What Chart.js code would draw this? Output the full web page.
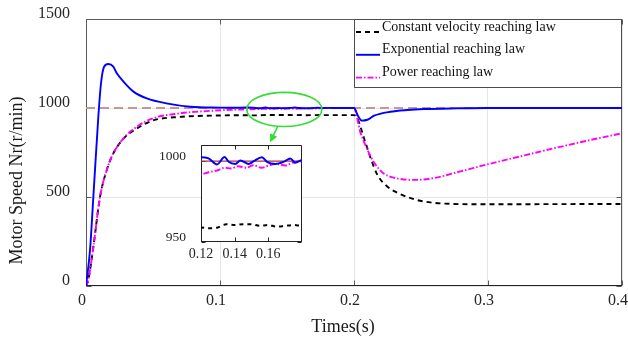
<!DOCTYPE html>
<html>
<head>
<meta charset="utf-8">
<script src="https://cdn.jsdelivr.net/npm/chart.js@4.4.1/dist/chart.umd.min.js"></script>
<style>
  html, body { margin: 0; padding: 0; background: #fff; }
  #wrap { position: relative; width: 628px; height: 339px; }
  #mainChart { position: absolute; left: 0; top: 0; }
  #insetChart { position: absolute; left: 150px; top: 135px; }
</style>
</head>
<body>
<div id="wrap">
  <canvas id="mainChart" width="628" height="339"></canvas>
  <canvas id="insetChart" width="160" height="130"></canvas>
</div>
<script>
const SERIF = '"Liberation Serif", "Times New Roman", serif';

const xTitle = 'Times(s)';
const yTitle = 'Motor Speed Nr(r/min)';
const legendLabels = ['Constant velocity reaching law', 'Exponential reaching law', 'Power reaching law'];

const timeTicks = [0, 0.1, 0.2, 0.3, 0.4];
const speedTicks = [0, 500, 1000, 1500];
const insetTimeTicks = [0.12, 0.14, 0.16];
const insetSpeedTicks = [950, 1000];

const refTime = [0, 0.4];
const refSpeed = [1000, 1000];

const constTime = [0, 0.0017, 0.0055, 0.0105, 0.0155, 0.0204, 0.028, 0.038, 0.05, 0.07,
  0.1, 0.11, 0.12, 0.125, 0.13, 0.135, 0.14, 0.145, 0.15, 0.155,
  0.16, 0.165, 0.17, 0.175, 0.18, 0.19, 0.2, 0.2025, 0.2075, 0.2125,
  0.2175, 0.225, 0.235, 0.247, 0.265, 0.3, 0.35, 0.4];
const constSpeed = [0, 34, 221, 502, 652, 745, 828, 885, 930, 950,
  958, 959, 959, 958.5, 959, 961, 960.5, 961, 961, 960,
  960.5, 959.5, 960, 960.5, 960, 960, 960, 942, 830, 717,
  624, 558, 515, 483, 464, 459, 460, 461];

const expTime = [0, 0.003, 0.0055, 0.0092, 0.0112, 0.0135, 0.0167, 0.0204, 0.023, 0.028,
  0.0354, 0.0454, 0.06, 0.078, 0.1, 0.11,
  0.12, 0.1245, 0.1295, 0.134, 0.1364, 0.1404, 0.1434, 0.1483, 0.1513, 0.1562,
  0.1592, 0.1642, 0.1691, 0.1731, 0.176, 0.18,
  0.19, 0.2, 0.203, 0.206, 0.21, 0.215, 0.227, 0.24, 0.252, 0.277, 0.3, 0.4];
const expSpeed = [0, 202, 502, 951, 1139, 1232, 1247, 1232, 1195, 1148,
  1092, 1054, 1026, 1007, 1002, 1001,
  1002.5, 1001.7, 998, 1002.5, 999.6, 998.3, 1000.4, 998.3, 1000, 1002.5,
  999.6, 998.3, 999.6, 1001.7, 999, 1000.6,
  1000, 1000, 955, 929, 934, 957, 979, 989, 994, 998, 1000, 1000];

const powerTime = [0, 0.0017, 0.0055, 0.0105, 0.0155, 0.0204, 0.028, 0.038, 0.05, 0.07,
  0.095, 0.108, 0.12, 0.1245, 0.1295, 0.134, 0.138, 0.142, 0.147, 0.151,
  0.156, 0.16, 0.165, 0.17, 0.174, 0.177, 0.18, 0.19, 0.2, 0.2046,
  0.2096, 0.2146, 0.222, 0.2297, 0.245, 0.26, 0.28, 0.3, 0.325, 0.35,
  0.375, 0.4];
const powerSpeed = [0, 34, 221, 502, 652, 745, 830, 895, 942, 970,
  985, 990, 991.7, 993.2, 994.2, 995.9, 995.5, 996.9, 995.9, 997.5,
  995.9, 997.3, 998.3, 997.3, 999, 999.6, 1000, 1000, 1000, 867,
  773, 698, 633, 609, 596, 607, 645, 684, 730, 775,
  818, 858];

// green ellipse marking the zoomed window, and where its arrow points
const markTime = 0.148;
const markSpeed = 992;
const markHalfTime = 0.028;
const markHalfSpeed = 96;
const arrowTime = 0.1374;
const arrowSpeed = 808;

const toPoints = (ts, vs) => ts.map((t, i) => ({ x: t, y: vs[i] }));

const boxTicks = {
  id: 'boxTicks',
  beforeDatasetsDraw(chart, args, opts) {
    const { ctx, chartArea: a, scales: { x, y } } = chart;
    const L = Math.round(a.left) + 0.5, R = Math.round(a.right) - 0.5;
    const T = Math.round(a.top) + 0.5, B = Math.round(a.bottom) - 0.5;
    const len = opts.len || 5;
    ctx.save();
    ctx.lineWidth = 1;
    ctx.strokeStyle = opts.sideColor || '#555';
    ctx.beginPath();
    ctx.moveTo(L, B); ctx.lineTo(L, T); ctx.lineTo(R, T); ctx.lineTo(R, B);
    (opts.xTicks || []).forEach(v => {
      const px = Math.round(x.getPixelForValue(v)) + 0.5;
      ctx.moveTo(px, B); ctx.lineTo(px, B - len);
      ctx.moveTo(px, T); ctx.lineTo(px, T + len);
    });
    (opts.yTicks || []).forEach(v => {
      const py = Math.round(y.getPixelForValue(v)) + 0.5;
      ctx.moveTo(L, py); ctx.lineTo(L + len, py);
      ctx.moveTo(R, py); ctx.lineTo(R - len, py);
    });
    ctx.stroke();
    ctx.strokeStyle = opts.bottomColor || '#222';
    ctx.beginPath();
    ctx.moveTo(L - 0.5, B); ctx.lineTo(R + 0.5, B);
    ctx.stroke();
    ctx.restore();
  }
};

const boxLegend = {
  id: 'boxLegend',
  afterDatasetsDraw(chart) {
    const { ctx, chartArea: a } = chart;
    const items = chart.data.datasets.filter(d => d.inLegend);
    const w = 268, h = 69;
    const left = Math.round(a.right - w), top = Math.round(a.top);
    ctx.save();
    ctx.fillStyle = '#fff';
    ctx.fillRect(left, top, w, h);
    ctx.strokeStyle = '#4d4d4d';
    ctx.lineWidth = 1;
    ctx.strokeRect(left + 0.5, top + 0.5, w - 1, h - 1);
    ctx.font = `14px ${SERIF}`;
    ctx.textBaseline = 'middle';
    ctx.textAlign = 'left';
    items.forEach((d, i) => {
      const cy = top + 8 + i * 22.8;
      ctx.strokeStyle = d.borderColor;
      ctx.lineWidth = d.borderWidth;
      ctx.setLineDash(d.borderDash || []);
      ctx.beginPath();
      ctx.moveTo(left + 2, cy + 5);
      ctx.lineTo(left + 26, cy + 5);
      ctx.stroke();
      ctx.setLineDash([]);
      ctx.fillStyle = '#111';
      ctx.fillText(d.label, left + 28, cy);
    });
    ctx.restore();
  }
};

const zoomMark = {
  id: 'zoomMark',
  afterDatasetsDraw(chart) {
    const { ctx, scales: { x, y } } = chart;
    const cx = x.getPixelForValue(markTime), cy = y.getPixelForValue(markSpeed);
    const rx = x.getPixelForValue(markTime + markHalfTime) - cx;
    const ry = y.getPixelForValue(markSpeed - markHalfSpeed) - cy;
    const ang = 100 * Math.PI / 180;
    const sx = cx + rx * Math.cos(ang), sy = cy + ry * Math.sin(ang);
    const ex = x.getPixelForValue(arrowTime), ey = y.getPixelForValue(arrowSpeed);
    const dir = Math.atan2(ey - sy, ex - sx);
    ctx.save();
    ctx.strokeStyle = '#33dd33';
    ctx.fillStyle = '#33dd33';
    ctx.lineWidth = 1.6;
    ctx.beginPath();
    ctx.ellipse(cx, cy, rx, ry, 0, 0, Math.PI * 2);
    ctx.stroke();
    ctx.beginPath();
    ctx.moveTo(sx, sy);
    ctx.lineTo(ex - 5 * Math.cos(dir), ey - 5 * Math.sin(dir));
    ctx.stroke();
    ctx.beginPath();
    ctx.moveTo(ex, ey);
    ctx.lineTo(ex - 8 * Math.cos(dir) + 4 * Math.sin(dir), ey - 8 * Math.sin(dir) - 4 * Math.cos(dir));
    ctx.lineTo(ex - 8 * Math.cos(dir) - 4 * Math.sin(dir), ey - 8 * Math.sin(dir) + 4 * Math.cos(dir));
    ctx.closePath();
    ctx.fill();
    ctx.restore();
  }
};

const axisTitles = {
  id: 'axisTitles',
  afterDraw(chart) {
    const { ctx, chartArea: a } = chart;
    ctx.save();
    ctx.fillStyle = '#1a1a1a';
    ctx.font = `18px ${SERIF}`;
    ctx.textAlign = 'center';
    ctx.textBaseline = 'middle';
    ctx.fillText(xTitle, (a.left + a.right) / 2 - 11, a.bottom + 41);
    ctx.translate(17, (a.top + a.bottom) / 2 + 28);
    ctx.rotate(-Math.PI / 2);
    ctx.fillText(yTitle, 0, 0);
    ctx.restore();
  }
};

const whiteArea = {
  id: 'whiteArea',
  beforeDraw(chart) {
    const { ctx, chartArea: a } = chart;
    ctx.save();
    ctx.fillStyle = '#fff';
    ctx.fillRect(a.left, a.top, a.width, a.height);
    ctx.restore();
  }
};

function makeDatasets(inset) {
  return [
    {
      label: legendLabels[0], inLegend: !inset,
      data: toPoints(constTime, constSpeed),
      borderColor: '#000000', borderWidth: inset ? 2 : 1.9,
      borderDash: inset ? [4, 4] : [5, 4], order: 3
    },
    {
      label: legendLabels[1], inLegend: !inset,
      data: toPoints(expTime, expSpeed),
      borderColor: '#0000ff', borderWidth: inset ? 2 : 1.9, order: 1
    },
    {
      label: legendLabels[2], inLegend: !inset,
      data: toPoints(powerTime, powerSpeed),
      borderColor: '#ff00ff', borderWidth: inset ? 2 : 1.9,
      borderDash: [6, 2, 1.5, 2], order: 2
    },
    {
      label: 'reference', inLegend: false,
      data: toPoints(refTime, refSpeed),
      borderColor: inset ? '#b03030' : '#c8959a', borderWidth: inset ? 1.2 : 2,
      borderDash: inset ? [] : [9, 5], order: 4
    }
  ].map(d => Object.assign(d, { pointRadius: 0, fill: false, cubicInterpolationMode: 'monotone' }));
}

const tickFont = size => ({ family: SERIF, size });

new Chart(document.getElementById('mainChart'), {
  type: 'line',
  data: { datasets: makeDatasets(false) },
  options: {
    responsive: false,
    animation: false,
    events: [],
    layout: { padding: { left: 0, top: 19, right: 6, bottom: 0 } },
    plugins: {
      legend: { display: false },
      tooltip: { enabled: false },
      boxTicks: { len: 5, xTicks: timeTicks, yTicks: speedTicks, sideColor: '#5a5a5a', bottomColor: '#222' }
    },
    scales: {
      x: {
        type: 'linear', min: 0, max: 0.4,
        afterBuildTicks: s => { s.ticks = timeTicks.map(v => ({ value: v })); },
        afterFit: s => { s.height = 53; s.paddingLeft = 0; s.paddingRight = 0; },
        grid: { color: '#e6e6e6', drawTicks: false },
        border: { display: false },
        ticks: { font: tickFont(16), color: '#262626', padding: 5, labelOffset: -4, maxRotation: 0, callback: v => String(v) }
      },
      y: {
        type: 'linear', min: 0, max: 1500,
        afterBuildTicks: s => { s.ticks = speedTicks.map(v => ({ value: v })); },
        afterFit: s => { s.width = 86; s.paddingTop = 0; s.paddingBottom = 0; },
        grid: { color: '#e6e6e6', drawTicks: false },
        border: { display: false },
        ticks: { font: tickFont(16), color: '#262626', padding: 16, labelOffset: -5, callback: v => String(v) }
      }
    }
  },
  plugins: [boxTicks, boxLegend, zoomMark, axisTitles]
});

new Chart(document.getElementById('insetChart'), {
  type: 'line',
  data: { datasets: makeDatasets(true) },
  options: {
    responsive: false,
    animation: false,
    events: [],
    layout: { padding: { left: 0, top: 10, right: 8, bottom: 0 } },
    plugins: {
      legend: { display: false },
      tooltip: { enabled: false },
      boxTicks: { len: 4, xTicks: insetTimeTicks, yTicks: insetSpeedTicks, sideColor: '#222', bottomColor: '#222' }
    },
    scales: {
      x: {
        type: 'linear', min: 0.12, max: 0.18,
        afterBuildTicks: s => { s.ticks = insetTimeTicks.map(v => ({ value: v })); },
        afterFit: s => { s.height = 23; s.paddingLeft = 0; s.paddingRight = 0; },
        grid: { display: false, drawTicks: false },
        border: { display: false },
        ticks: { font: tickFont(14), color: '#262626', padding: 4, maxRotation: 0, callback: v => v.toFixed(2) }
      },
      y: {
        type: 'linear', min: 950, max: 1010,
        afterBuildTicks: s => { s.ticks = insetSpeedTicks.map(v => ({ value: v })); },
        afterFit: s => { s.width = 51; s.paddingTop = 0; s.paddingBottom = 0; },
        grid: { display: false, drawTicks: false },
        border: { display: false },
        ticks: { font: tickFont(13.5), color: '#262626', padding: 15, labelOffset: -5, callback: v => String(v) }
      }
    }
  },
  plugins: [whiteArea, boxTicks]
});
</script>
</body>
</html>
